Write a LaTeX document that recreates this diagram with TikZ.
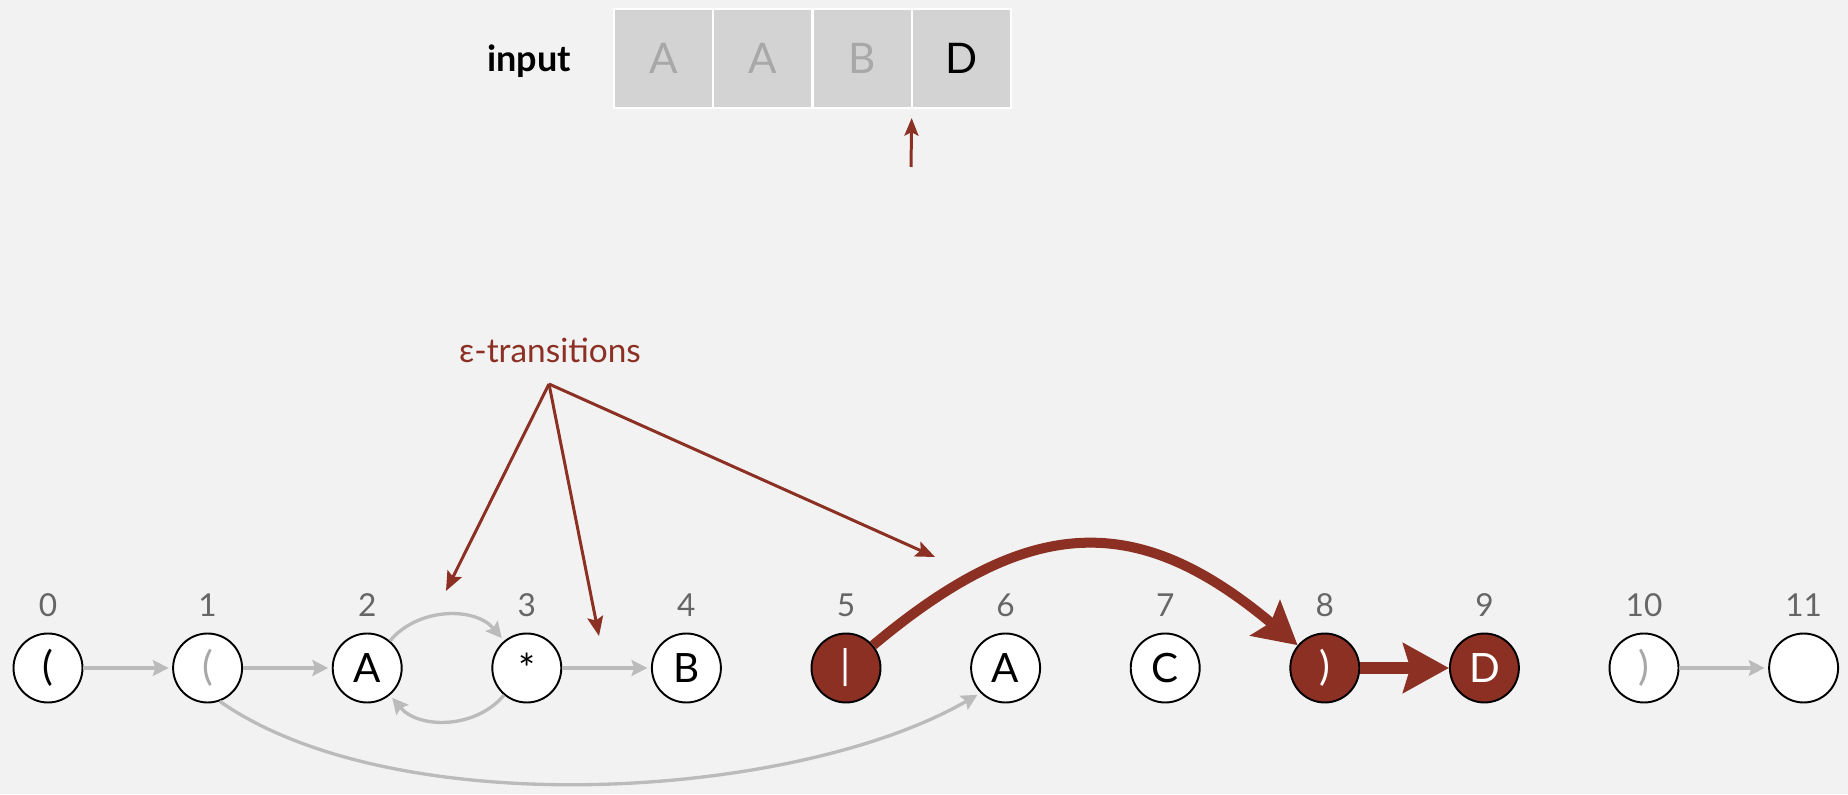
\documentclass[tikz,border=0pt]{standalone}
\usepackage{fontspec}
\setmainfont{Lato}
\usetikzlibrary{arrows.meta,positioning,calc}
\definecolor{bg}{RGB}{242,242,242}
\definecolor{brick}{RGB}{139,48,35}
\definecolor{edgegray}{RGB}{187,187,187}
\definecolor{idxgray}{RGB}{102,102,102}
\definecolor{cellgray}{RGB}{211,211,211}
\definecolor{fadegray}{RGB}{168,168,168}
\tikzset{
    idx/.style={text=idxgray, inner sep=0pt, font=\fontsize{18}{20}\selectfont},
}

\begin{document}
\begin{tikzpicture}[x=0.02cm,y=0.02cm]
    \useasboundingbox (0,0) rectangle (1848,794);
    \fill[bg] (0,0) rectangle (1848,794);

    % input text
    \begin{scope}
        \tikzstyle{every node}=[draw=white, line width=1.2pt, fill=cellgray, minimum size=1.985cm, inner sep=0pt, outer sep=0pt, text=fadegray, font=\fontsize{24}{26}\selectfont]
        \node (c1) at (663.6,735.5) {A};
        \node[right=0pt of c1] (c2) {A};
        \node[right=0pt of c2] (c3) {B};
        \node[right=0pt of c3, text=black] (c4) {D};
    \end{scope}
    \node[font=\bfseries\fontsize{20.5}{24}\selectfont] (inp) at (529,733) {input};
    \coordinate (ptr) at (911,627);
    \draw[brick, line width=1.7pt, -{Stealth[length=10pt,width=8pt,inset=2pt]}] (ptr) -- ([yshift=-0.2cm]c4.south west);

    % NFA states
    \begin{scope}
        \tikzstyle{every node}=[circle, draw=black, line width=1.1pt, fill=white, minimum size=1.38cm, inner sep=0pt, font=\fontsize{23}{26}\selectfont]
        \node (n0) at (48,126) {(};
        \node[text=fadegray] (n1) at (207.6,126) {(};
        \node (n2) at (367.2,126) {A};
        \node (n3) at (526.8,126) {*};
        \node (n4) at (686.4,126) {B};
        \node[fill=brick, text=white] (n5) at (846,126) {|};
        \node (n6) at (1005.6,126) {A};
        \node (n7) at (1165.2,126) {C};
        \node[fill=brick, text=white] (n8) at (1324.8,126) {)};
        \node[fill=brick, text=white] (n9) at (1484.4,126) {D};
        \node[text=fadegray] (n10) at (1644,126) {)};
        \node (n11) at (1803.6,126) {};
    \end{scope}
    \foreach \i in {0,...,11}
        \node[idx, anchor=base] (l\i) at ($(n\i.north)+(0,16.5)$) {\i};

    % epsilon transitions
    \begin{scope}
        \tikzstyle{every edge}=[draw, edgegray, line width=1.9pt, shorten >=2pt, -{Stealth[length=9pt,width=9pt,inset=1.5pt]}]
        \path
        (n0) edge (n1)
        (n1) edge (n2)
        (n2) edge[bend left=50] (n3)
        (n3) edge[bend left=50] (n2)
        (n3) edge (n4)
        (n10) edge (n11)
        (n1.-70) edge[out=-35, in=-150, looseness=0.72] (n6.-135);
    \end{scope}

    % reachable states
    \draw[brick, line width=5.7pt, -{Stealth[length=24pt,width=26pt,inset=4pt]}] (n5) to[out=40, in=140, looseness=1.25] (n8);
    \draw[brick, line width=7pt, -{Stealth[length=26pt,width=28pt,inset=4pt]}] (n8) -- (n9);

    % callout
    \node[text=brick, font=\fontsize{19}{22}\selectfont] (eps) at (550,444) {ε-transitions};
    \begin{scope}
        \tikzstyle{every edge}=[draw, brick, line width=1.7pt, -{Stealth[length=11pt,width=9pt,inset=2pt]}]
        \coordinate (src) at (549,410);
        \coordinate (t1) at (446,203);
        \coordinate (t2) at (599,158);
        \coordinate (t3) at (935,237);
        \path
        (src) edge (t1)
        (src) edge (t2)
        (src) edge (t3);
    \end{scope}
\end{tikzpicture}
\end{document}
